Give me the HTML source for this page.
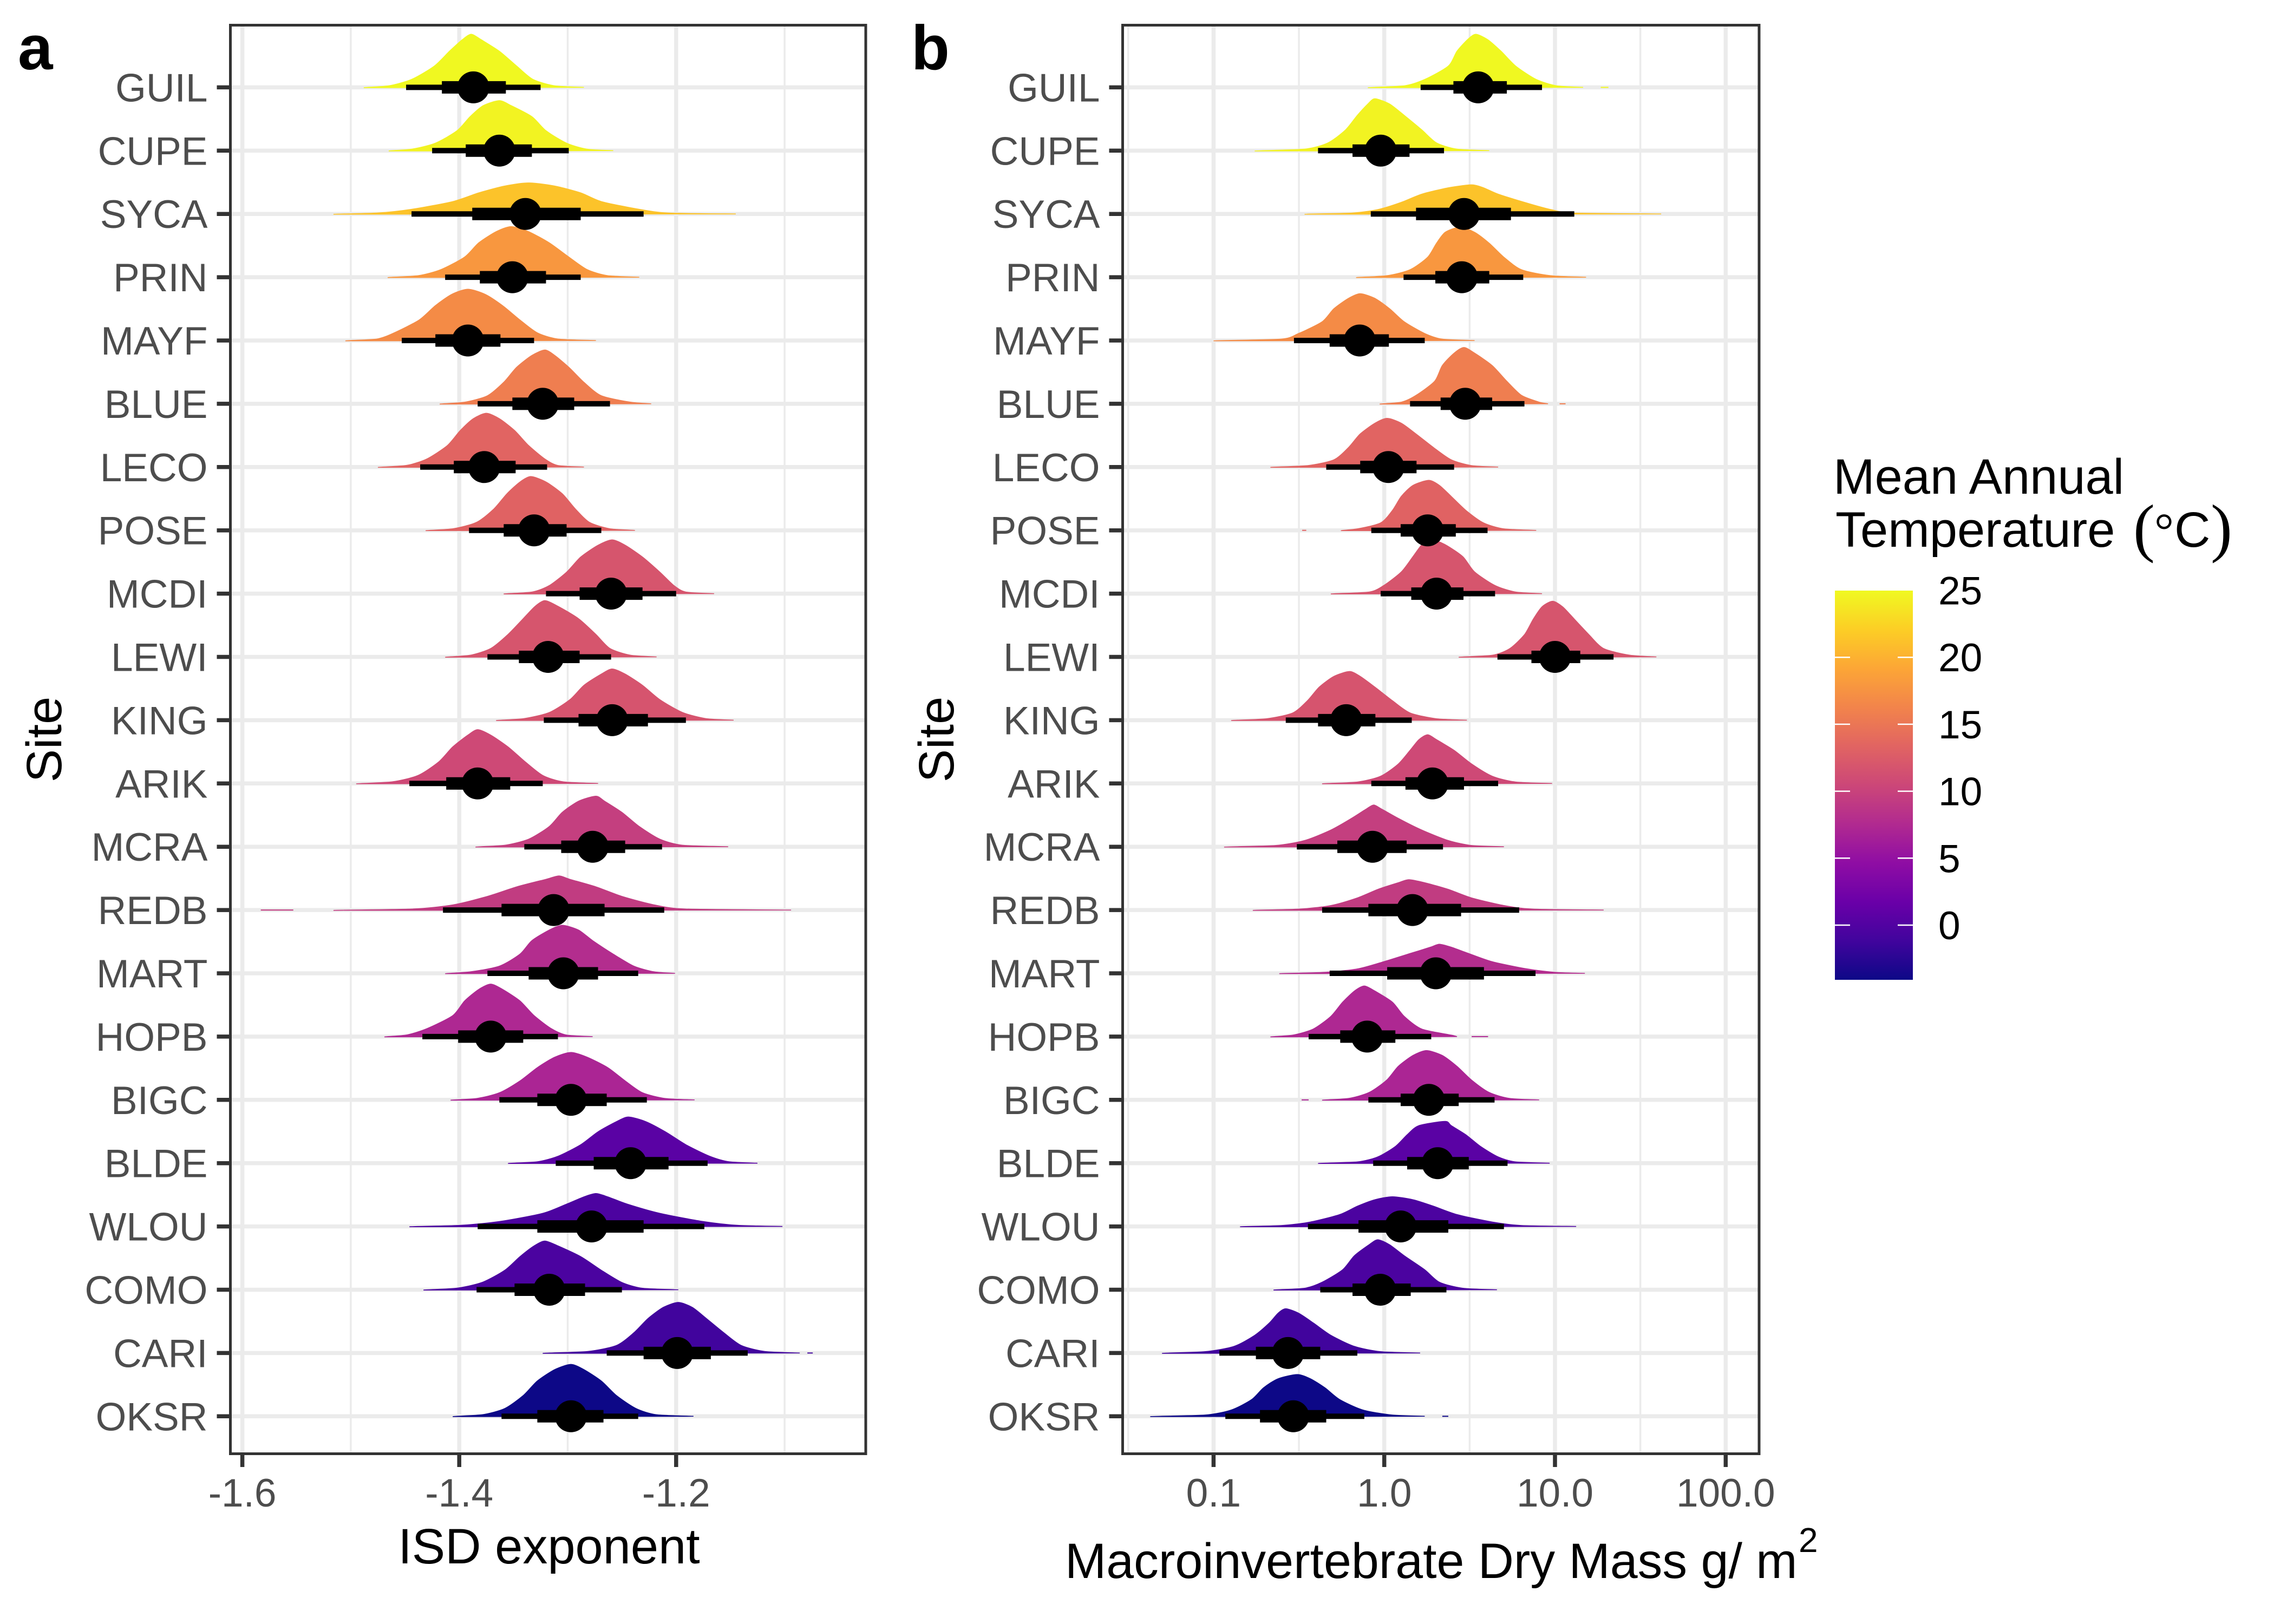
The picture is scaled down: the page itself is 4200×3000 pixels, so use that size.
<!DOCTYPE html>
<html lang="en">
<head>
<meta charset="utf-8">
<title>ISD exponent and macroinvertebrate dry mass by NEON site</title>
<style>
html,body{margin:0;padding:0;background:#fff;}
svg{display:block;font-family:"Liberation Sans",Arial,sans-serif;}
</style>
</head>
<body>
<svg id="figure" xmlns="http://www.w3.org/2000/svg" width="4200" height="3000" viewBox="0 0 4200 3000">
  <rect x="0" y="0" width="4200" height="3000" fill="#ffffff"/>
  <defs>
    <linearGradient id="plasma-gradient" x1="0" y1="1" x2="0" y2="0"></linearGradient>
  </defs>
  <g id="panel-a"></g>
  <g id="panel-b"></g>
  <text x="33" y="128" font-size="116" font-weight="bold" fill="#000">a</text>
  <text x="1683" y="128" font-size="116" font-weight="bold" fill="#000">b</text>
  <text transform="translate(113,1366) rotate(-90)" text-anchor="middle" font-size="92" fill="#000">Site</text>
  <text transform="translate(1761,1366) rotate(-90)" text-anchor="middle" font-size="92" fill="#000">Site</text>
  <text x="1014" y="2888" text-anchor="middle" font-size="92" fill="#000">ISD exponent</text>
  <text x="1967" y="2915" font-size="91.5" fill="#000">Macroinvertebrate Dry Mass g/ m</text>
  <text x="3322" y="2867" font-size="64" fill="#000">2</text>
  <g id="legend">
    <text x="3386" y="912" font-size="92" fill="#000">Mean Annual</text>
    <text x="3390" y="1010" font-size="92" fill="#000">Temperature</text>
    <text x="3940" y="1015" font-size="120" fill="#000" style="font-family:'Liberation Serif',serif">(</text>
    <text x="3979" y="1010" font-size="90" fill="#000" style="font-family:'Liberation Serif',serif">°</text>
    <text x="4016" y="1010" font-size="92" fill="#000">C</text>
    <text x="4083" y="1015" font-size="120" fill="#000" style="font-family:'Liberation Serif',serif">)</text>
    <rect x="3389" y="1091" width="144" height="719" fill="url(#plasma-gradient)"/>
  </g>
</svg>
<script>
// ---------- categories ----------
const sites = ["GUIL","CUPE","SYCA","PRIN","MAYF","BLUE","LECO","POSE","MCDI","LEWI","KING","ARIK","MCRA","REDB","MART","HOPB","BIGC","BLDE","WLOU","COMO","CARI","OKSR"];
const siteTemperature = [24.9,24.6,21.3,17.9,16.9,15.7,13.4,13.2,11.9,11.9,11.8,10.7,9.6,9.3,7.8,7.3,7.0,0.6,-0.4,-0.5,-1.2,-4.1];

// ---------- tick labels ----------
const isdMajorTicks = [-1.6,-1.4,-1.2];
const isdMinorTicks = [-1.5,-1.3,-1.1];
const isdTickLabels = ["-1.6","-1.4","-1.2"];
const massMajorTicks = [-1,0,1,2];            // log10 g/m2
const massMinorTicks = [-1.5,-0.5,0.5,1.5];   // log10 g/m2
const massTickLabels = ["0.1","1.0","10.0","100.0"];
const legendTicks = [0,5,10,15,20,25];
const legendTickLabels = ["0","5","10","15","20","25"];
const legendRange = [-4.1,25];

// ---------- panel a: ISD exponent interval summaries ----------
const isdMedian = [-1.387,-1.363,-1.339,-1.351,-1.392,-1.323,-1.377,-1.331,-1.260,-1.318,-1.259,-1.383,-1.277,-1.313,-1.304,-1.371,-1.297,-1.242,-1.278,-1.317,-1.199,-1.297];
const isdLo50 = [-1.416,-1.394,-1.388,-1.381,-1.422,-1.351,-1.405,-1.359,-1.289,-1.345,-1.290,-1.412,-1.306,-1.361,-1.336,-1.401,-1.328,-1.276,-1.328,-1.349,-1.230,-1.328];
const isdHi50 = [-1.357,-1.333,-1.288,-1.320,-1.362,-1.294,-1.348,-1.301,-1.231,-1.289,-1.226,-1.353,-1.247,-1.266,-1.272,-1.341,-1.264,-1.207,-1.230,-1.284,-1.168,-1.267];
const isdLo95 = [-1.449,-1.425,-1.444,-1.413,-1.453,-1.383,-1.436,-1.391,-1.320,-1.374,-1.322,-1.446,-1.340,-1.415,-1.374,-1.434,-1.363,-1.311,-1.383,-1.384,-1.264,-1.361];
const isdHi95 = [-1.325,-1.299,-1.230,-1.288,-1.331,-1.261,-1.319,-1.269,-1.200,-1.260,-1.191,-1.323,-1.213,-1.211,-1.235,-1.309,-1.227,-1.171,-1.174,-1.250,-1.134,-1.235];

// ---------- panel b: log10 dry mass interval summaries ----------
const massMedian = [0.550,-0.021,0.467,0.454,-0.144,0.474,0.024,0.254,0.306,1.000,-0.223,0.282,-0.069,0.165,0.302,-0.100,0.261,0.313,0.096,-0.024,-0.564,-0.533];
const massLo50 = [0.405,-0.186,0.186,0.299,-0.320,0.330,-0.141,0.096,0.158,0.862,-0.388,0.124,-0.275,-0.093,0.017,-0.258,0.096,0.134,-0.151,-0.186,-0.752,-0.728];
const massHi50 = [0.718,0.148,0.742,0.615,0.027,0.632,0.189,0.419,0.464,1.148,-0.052,0.467,0.131,0.450,0.584,0.065,0.436,0.495,0.375,0.155,-0.375,-0.340];
const massLo95 = [0.213,-0.388,-0.079,0.113,-0.529,0.151,-0.340,-0.076,-0.021,0.663,-0.577,-0.076,-0.512,-0.364,-0.320,-0.443,-0.093,-0.065,-0.447,-0.375,-0.966,-0.931];
const massHi95 = [0.924,0.350,1.113,0.814,0.237,0.821,0.409,0.605,0.649,1.343,0.161,0.667,0.344,0.790,0.886,0.275,0.646,0.722,0.701,0.364,-0.158,-0.117];

// ---------- posterior densities ----------
// Fraction of each curve's peak at each outline vertex, left tail to right tail
const densityLevels = [0,0.03,0.15,0.4,0.68,0.9,1,0.9,0.68,0.4,0.15,0.03,0];
// Peak density in row heights
const isdPeak = [0.84,0.79,0.49,0.80,0.81,0.85,0.85,0.85,0.85,0.89,0.81,0.85,0.80,0.54,0.76,0.83,0.75,0.73,0.52,0.77,0.80,0.82];
const massPeak = [0.84,0.82,0.46,0.79,0.74,0.89,0.77,0.79,0.86,0.88,0.77,0.77,0.66,0.48,0.46,0.80,0.78,0.66,0.47,0.79,0.70,0.66];
// ISD exponent value at each outline vertex, per site
const isdCurveX = [
 [-1.488,-1.465,-1.444,-1.423,-1.409,-1.397,-1.389,-1.380,-1.363,-1.347,-1.332,-1.312,-1.285],
 [-1.465,-1.444,-1.422,-1.402,-1.390,-1.378,-1.363,-1.352,-1.333,-1.320,-1.301,-1.282,-1.258],
 [-1.516,-1.476,-1.444,-1.406,-1.382,-1.358,-1.336,-1.312,-1.288,-1.269,-1.234,-1.207,-1.145],
 [-1.466,-1.438,-1.417,-1.395,-1.382,-1.366,-1.352,-1.336,-1.317,-1.299,-1.282,-1.263,-1.234],
 [-1.505,-1.476,-1.460,-1.437,-1.422,-1.407,-1.392,-1.376,-1.360,-1.344,-1.328,-1.309,-1.274],
 [-1.418,-1.395,-1.374,-1.359,-1.347,-1.333,-1.321,-1.312,-1.299,-1.285,-1.269,-1.242,-1.223],
 [-1.475,-1.449,-1.430,-1.411,-1.399,-1.387,-1.375,-1.363,-1.349,-1.336,-1.321,-1.309,-1.285],
 [-1.431,-1.406,-1.384,-1.368,-1.356,-1.344,-1.334,-1.320,-1.305,-1.293,-1.280,-1.261,-1.238],
 [-1.359,-1.333,-1.317,-1.301,-1.288,-1.272,-1.259,-1.247,-1.231,-1.215,-1.202,-1.191,-1.165],
 [-1.413,-1.390,-1.371,-1.355,-1.341,-1.330,-1.321,-1.309,-1.290,-1.274,-1.261,-1.242,-1.218],
 [-1.366,-1.341,-1.317,-1.298,-1.285,-1.269,-1.259,-1.247,-1.231,-1.215,-1.194,-1.172,-1.147],
 [-1.495,-1.462,-1.438,-1.419,-1.406,-1.392,-1.383,-1.371,-1.355,-1.339,-1.323,-1.304,-1.272],
 [-1.385,-1.358,-1.336,-1.317,-1.305,-1.290,-1.274,-1.266,-1.250,-1.234,-1.215,-1.194,-1.152],
 [-1.516,-1.444,-1.406,-1.374,-1.347,-1.320,-1.308,-1.298,-1.274,-1.250,-1.220,-1.191,-1.094],
 [-1.413,-1.390,-1.363,-1.344,-1.333,-1.317,-1.305,-1.290,-1.277,-1.258,-1.239,-1.220,-1.201],
 [-1.469,-1.449,-1.430,-1.406,-1.395,-1.382,-1.371,-1.360,-1.344,-1.331,-1.315,-1.301,-1.277],
 [-1.408,-1.384,-1.363,-1.344,-1.328,-1.312,-1.297,-1.282,-1.263,-1.247,-1.231,-1.210,-1.183],
 [-1.355,-1.328,-1.309,-1.288,-1.272,-1.255,-1.244,-1.228,-1.210,-1.191,-1.169,-1.151,-1.125],
 [-1.446,-1.401,-1.363,-1.323,-1.301,-1.285,-1.274,-1.263,-1.245,-1.215,-1.175,-1.142,-1.102],
 [-1.433,-1.403,-1.379,-1.358,-1.344,-1.331,-1.321,-1.309,-1.288,-1.269,-1.250,-1.231,-1.198],
 [-1.323,-1.282,-1.255,-1.239,-1.226,-1.212,-1.198,-1.185,-1.172,-1.156,-1.140,-1.118,-1.086],
 [-1.406,-1.379,-1.358,-1.341,-1.328,-1.312,-1.297,-1.285,-1.269,-1.255,-1.237,-1.218,-1.184]
];
// log10 dry mass at each outline vertex, per site
const massCurveX = [
 [-0.096,0.117,0.237,0.375,0.426,0.488,0.536,0.605,0.684,0.770,0.890,1.010,1.165],
 [-0.759,-0.467,-0.330,-0.227,-0.158,-0.096,-0.055,0.031,0.117,0.220,0.306,0.426,0.615],
 [-0.467,-0.192,-0.038,0.100,0.220,0.375,0.512,0.581,0.667,0.821,0.976,1.113,1.622],
 [-0.165,0.014,0.151,0.254,0.306,0.357,0.443,0.529,0.615,0.701,0.804,0.976,1.182],
 [-1.000,-0.605,-0.502,-0.364,-0.295,-0.210,-0.141,-0.055,0.031,0.117,0.237,0.340,0.529],
 [-0.027,0.100,0.186,0.295,0.340,0.409,0.467,0.529,0.632,0.718,0.804,0.907,0.959],
 [-0.667,-0.450,-0.295,-0.210,-0.141,-0.055,0.017,0.100,0.186,0.289,0.392,0.512,0.667],
 [-0.254,-0.158,-0.021,0.048,0.100,0.168,0.261,0.323,0.392,0.478,0.581,0.701,0.890],
 [-0.313,-0.089,-0.003,0.100,0.168,0.220,0.271,0.357,0.460,0.529,0.649,0.770,0.924],
 [0.436,0.632,0.735,0.821,0.873,0.924,0.986,1.045,1.113,1.199,1.285,1.440,1.594],
 [-0.897,-0.691,-0.536,-0.450,-0.381,-0.295,-0.203,-0.141,-0.055,0.048,0.151,0.306,0.484],
 [-0.364,-0.158,-0.021,0.082,0.151,0.203,0.254,0.306,0.409,0.512,0.632,0.770,0.983],
 [-0.938,-0.639,-0.467,-0.313,-0.192,-0.107,-0.062,-0.014,0.082,0.220,0.375,0.512,0.701],
 [-0.770,-0.502,-0.313,-0.158,-0.038,0.082,0.144,0.237,0.375,0.512,0.701,0.873,1.285],
 [-0.615,-0.364,-0.158,-0.003,0.151,0.271,0.323,0.392,0.495,0.632,0.838,1.010,1.175],
 [-0.667,-0.536,-0.416,-0.313,-0.244,-0.175,-0.117,-0.055,0.048,0.117,0.220,0.392,0.426],
 [-0.364,-0.210,-0.089,0.014,0.082,0.168,0.247,0.340,0.426,0.512,0.615,0.735,0.907],
 [-0.388,-0.158,-0.038,0.065,0.134,0.203,0.357,0.392,0.478,0.564,0.667,0.770,0.969],
 [-0.845,-0.605,-0.433,-0.261,-0.158,-0.055,0.048,0.168,0.289,0.426,0.632,0.804,1.124],
 [-0.649,-0.467,-0.364,-0.244,-0.175,-0.089,-0.038,0.031,0.117,0.237,0.323,0.460,0.660],
 [-1.302,-1.051,-0.880,-0.759,-0.673,-0.622,-0.577,-0.502,-0.416,-0.313,-0.175,-0.021,0.210],
 [-1.371,-1.051,-0.897,-0.777,-0.708,-0.622,-0.509,-0.433,-0.347,-0.261,-0.124,0.048,0.237]
];
// Isolated far-tail slivers detached from the main density
const isdSliverSite = [13,20];
const isdSliverLo = [-1.583,-1.079];
const isdSliverHi = [-1.553,-1.074];
const massSliverSite = [0,7,5,15,16,21];
const massSliverLo = [1.268,-0.481,1.027,0.512,-0.484,0.340];
const massSliverHi = [1.313,-0.457,1.062,0.608,-0.443,0.375];

// ---------- colour map ----------
const plasmaStops = ["#0d0887","#41049d","#6a00a8","#8f0da4","#b12a90","#cc4778","#e16462","#f2844b","#fca636","#fcce25","#f0f921"];

// ---------- layout & axis functions ----------
const SVG_NS = "http://www.w3.org/2000/svg";
const panelTop = 46.5, panelBottom = 2685.5;
const rowTop = 161.4, rowStep = 116.9;
const curveTension = 1 / 8;
const rowY = function (i) { return rowTop + rowStep * i; };
const xIsd = function (v) { return 1248.8 + (v + 1.2) * 2003; };
const xMass = function (v) { return 2556.7 + v * 315.3; };
const yLegend = function (t) { return 1709 - t * 24.74; };

function hexToRgb(h) {
  return [parseInt(h.substr(1,2),16), parseInt(h.substr(3,2),16), parseInt(h.substr(5,2),16)];
}
function temperatureColor(t) {
  const f = Math.max(0, Math.min(1, (t - legendRange[0]) / (legendRange[1] - legendRange[0])));
  const pos = f * (plasmaStops.length - 1);
  const k = Math.min(plasmaStops.length - 2, Math.floor(pos));
  const a = hexToRgb(plasmaStops[k]), b = hexToRgb(plasmaStops[k + 1]);
  const w = pos - k;
  return "rgb(" + [0,1,2].map(function (c) { return Math.round(a[c] + (b[c] - a[c]) * w); }).join(",") + ")";
}
function make(tag, parent, attrs) {
  const el = document.createElementNS(SVG_NS, tag);
  Object.keys(attrs).forEach(function (k) { el.setAttribute(k, attrs[k]); });
  parent.appendChild(el);
  return el;
}
function curvePath(xs, ys, base, top) {
  const n = xs.length;
  const clampY = function (y) { return Math.max(top, Math.min(base, y)); };
  let d = "M" + xs[0].toFixed(1) + " " + base.toFixed(1);
  for (let i = 0; i < n - 1; i++) {
    const p0 = Math.max(0, i - 1), p3 = Math.min(n - 1, i + 2);
    const c1x = xs[i] + (xs[i + 1] - xs[p0]) * curveTension;
    const c1y = clampY(ys[i] + (ys[i + 1] - ys[p0]) * curveTension);
    const c2x = xs[i + 1] - (xs[p3] - xs[i]) * curveTension;
    const c2y = clampY(ys[i + 1] - (ys[p3] - ys[i]) * curveTension);
    d += "C" + c1x.toFixed(1) + " " + c1y.toFixed(1) + " " + c2x.toFixed(1) + " " + c2y.toFixed(1) + " " + xs[i + 1].toFixed(1) + " " + ys[i + 1].toFixed(1);
  }
  return d + "Z";
}

function drawPanel(cfg) {
  const g = document.getElementById(cfg.id);

  cfg.minorTicks.forEach(function (t) {
    const el = make("line", g, {x1: cfg.x(t), x2: cfg.x(t), y1: panelTop, y2: panelBottom, stroke: "#ebebeb", "stroke-width": 3.5});
    
    
  });
  cfg.majorTicks.forEach(function (t) {
    const el = make("line", g, {x1: cfg.x(t), x2: cfg.x(t), y1: panelTop, y2: panelBottom, stroke: "#ebebeb", "stroke-width": 7.5});
    
    
  });
  sites.forEach(function (s, i) {
    const el = make("line", g, {x1: cfg.left, x2: cfg.right, y1: rowY(i), y2: rowY(i), stroke: "#ebebeb", "stroke-width": 7.5});
    
    
  });

  sites.forEach(function (s, i) {
    const base = rowY(i);
    const peakPx = cfg.peak[i] * rowStep;
    const xs = cfg.curveX[i].map(cfg.x);
    const ys = densityLevels.map(function (l) { return base - l * peakPx; });
    const color = temperatureColor(siteTemperature[i]);
    const el = make("path", g, {d: curvePath(xs, ys, base + 0.6, base - peakPx), fill: color, stroke: color, "stroke-width": 1.5});
    
    
  });

  cfg.sliverSite.forEach(function (site, k) {
    const y = rowY(site);
    const el = make("line", g, {x1: cfg.x(cfg.sliverLo[k]), x2: cfg.x(cfg.sliverHi[k]), y1: y, y2: y, stroke: temperatureColor(siteTemperature[site]), "stroke-width": 2});
    
    
  });

  sites.forEach(function (s, i) {
    const y = rowY(i);
    const thin = make("line", g, {x1: cfg.x(cfg.lo95[i]), x2: cfg.x(cfg.hi95[i]), y1: y, y2: y, stroke: "#000", "stroke-width": 10});
    
    
    const thick = make("line", g, {x1: cfg.x(cfg.lo50[i]), x2: cfg.x(cfg.hi50[i]), y1: y, y2: y, stroke: "#000", "stroke-width": 23});
    
    
    const dot = make("circle", g, {cx: cfg.x(cfg.median[i]), cy: y, r: 29.5, fill: "#000"});
    
    
  });

  const border = make("rect", g, {x: cfg.left, y: panelTop, width: cfg.right - cfg.left, height: panelBottom - panelTop, fill: "none", stroke: "#333333", "stroke-width": 5});
  
  

  sites.forEach(function (s, i) {
    const tick = make("line", g, {x1: cfg.left - 25, x2: cfg.left, y1: rowY(i), y2: rowY(i), stroke: "#333333", "stroke-width": 7.5});
    
    
    const label = make("text", g, {x: cfg.left - 42, y: rowY(i) + 26, "text-anchor": "end", "font-size": 73, fill: "#4d4d4d"});
    
    
    label.textContent = s;
  });
  cfg.majorTicks.forEach(function (t, i) {
    const tick = make("line", g, {x1: cfg.x(t), x2: cfg.x(t), y1: panelBottom, y2: 2710, stroke: "#333333", "stroke-width": 7.5});
    
    
    const label = make("text", g, {x: cfg.x(t), y: 2783, "text-anchor": "middle", "font-size": 73, fill: "#4d4d4d"});
    
    
    label.textContent = cfg.tickLabels[i];
  });
}

drawPanel({id: "panel-a", left: 425.5, right: 1599, x: xIsd,
  minorTicks: isdMinorTicks, majorTicks: isdMajorTicks, tickLabels: isdTickLabels,
  peak: isdPeak, curveX: isdCurveX, median: isdMedian,
  lo50: isdLo50, hi50: isdHi50, lo95: isdLo95, hi95: isdHi95,
  sliverSite: isdSliverSite, sliverLo: isdSliverLo, sliverHi: isdSliverHi});
drawPanel({id: "panel-b", left: 2073.5, right: 3249, x: xMass,
  minorTicks: massMinorTicks, majorTicks: massMajorTicks, tickLabels: massTickLabels,
  peak: massPeak, curveX: massCurveX, median: massMedian,
  lo50: massLo50, hi50: massHi50, lo95: massLo95, hi95: massHi95,
  sliverSite: massSliverSite, sliverLo: massSliverLo, sliverHi: massSliverHi});

// ---------- colour bar ----------
const gradient = document.getElementById("plasma-gradient");
plasmaStops.forEach(function (c, i) {
  make("stop", gradient, {offset: (i / (plasmaStops.length - 1) * 100) + "%", "stop-color": c});
});
const legend = document.getElementById("legend");
legendTicks.forEach(function (t, i) {
  if (t < legendRange[1]) {
    const left = make("line", legend, {x1: 3389, x2: 3417, y1: yLegend(t), y2: yLegend(t), stroke: "#ffffff", "stroke-width": 2.5});
    
    
    const right = make("line", legend, {x1: 3505, x2: 3533, y1: yLegend(t), y2: yLegend(t), stroke: "#ffffff", "stroke-width": 2.5});
    
    
  }
  const label = make("text", legend, {x: 3580, y: yLegend(t) + 26, "font-size": 73, fill: "#000"});
  
  
  label.textContent = legendTickLabels[i];
});
</script>
</body>
</html>
